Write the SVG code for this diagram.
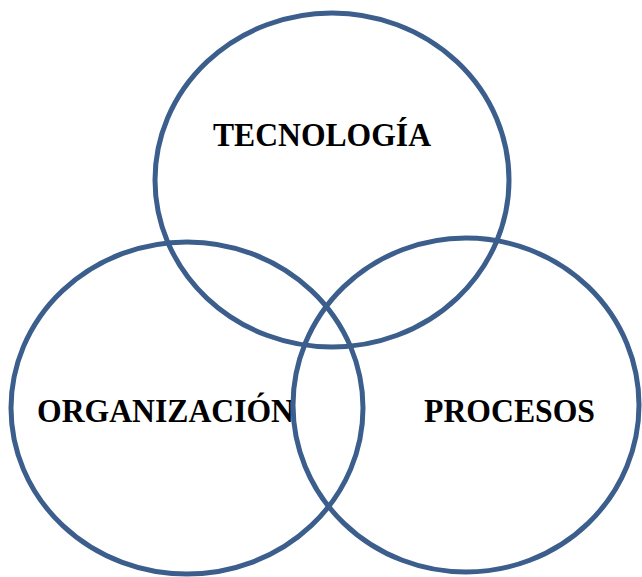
<svg xmlns="http://www.w3.org/2000/svg" width="642" height="577" viewBox="0 0 642 577">
<style>
.c{fill:none;stroke:#3B5E8C;stroke-width:5}
.t{font-family:"Liberation Serif","Times New Roman",serif;font-weight:bold;font-size:34px;fill:#000}
</style>
<rect width="642" height="577" fill="#fff"/>
<g id="tecnologia"><ellipse class="c" cx="332" cy="180" rx="177" ry="167"/><text class="t" x="213" y="146" textLength="218" lengthAdjust="spacingAndGlyphs">TECNOLOGÍA</text></g>
<g id="organizacion"><ellipse class="c" cx="187" cy="408" rx="176" ry="166"/><text class="t" x="37" y="422" textLength="257" lengthAdjust="spacingAndGlyphs">ORGANIZACIÓN</text></g>
<g id="procesos"><ellipse class="c" cx="466" cy="405" rx="173" ry="167"/><text class="t" x="424" y="422" textLength="171" lengthAdjust="spacingAndGlyphs">PROCESOS</text></g>
<g id="connectors"/>
</svg>
